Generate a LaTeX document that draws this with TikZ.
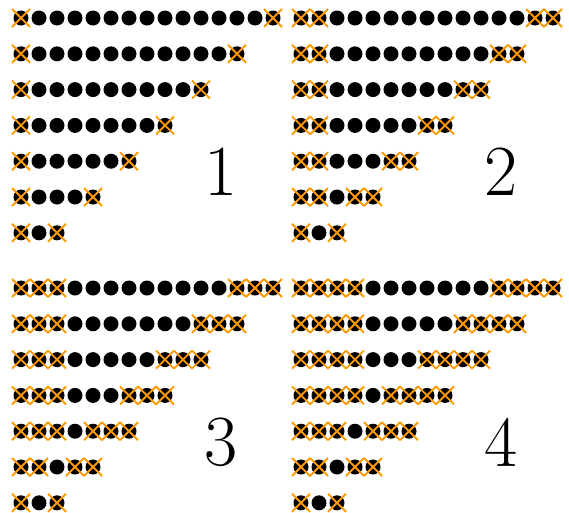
\documentclass[tikz,border=0pt]{standalone}
\usepackage{fontspec}
\definecolor{crossorange}{RGB}{255,153,0}
\tikzset{
  dotfill/.style={fill=black},
  crossline/.style={draw=crossorange,line width=1.9pt},
  biglabel/.style={font=\fontsize{72}{72}\selectfont,inner sep=0pt}
}
\begin{document}
\begin{tikzpicture}[x=1pt,y=-1pt]
\useasboundingbox (0,0) rectangle (569,512);
\foreach \k/\px/\py in {1/0/0,2/280/0,3/0/270,4/280/270}{
  \foreach \r in {0,...,6}{
    \pgfmathtruncatemacro{\n}{15-2*\r}
    \pgfmathtruncatemacro{\nlast}{\n-1}
    \foreach \i in {0,...,\nlast}{
      \fill[dotfill] (21+\px+18*\i, 18+\py+35.8*\r) circle[radius=7.5];
    }
  }
  \foreach \r in {0,...,6}{
    \pgfmathtruncatemacro{\n}{15-2*\r}
    \pgfmathtruncatemacro{\nlast}{\n-1}
    \pgfmathtruncatemacro{\cc}{min(\k,(\n-1)/2)}
    \foreach \i in {0,...,\nlast}{
      \pgfmathtruncatemacro{\hit}{(\i<\cc)||(\i>\n-\cc-1)}
      \ifnum\hit=1
        \path[crossline] (21+\px+18*\i-9, 18+\py+35.8*\r-9) -- ++(18,18)
          (21+\px+18*\i-9, 18+\py+35.8*\r+9) -- ++(18,-18);
      \fi
    }
  }
  \node[biglabel] (lab\k) at (221+\px,172+\py) {\k};
}
\end{tikzpicture}
\end{document}
